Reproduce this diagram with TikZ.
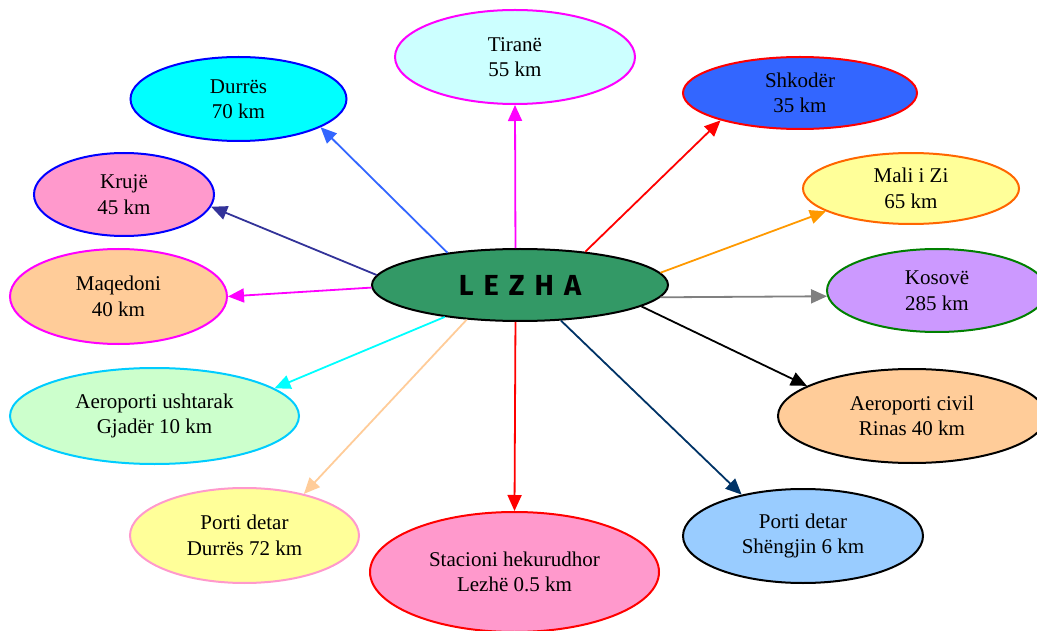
\documentclass[tikz,border=0pt]{standalone}
\usepackage{fontspec}
\setmainfont{Liberation Serif}
\newfontfamily\lezhafont{Fira Sans}
\usetikzlibrary{shapes.geometric,arrows.meta}
\definecolor{cTirF}{HTML}{CCFFFF}
\definecolor{cMag}{HTML}{FF00FF}
\definecolor{cCyan}{HTML}{00FFFF}
\definecolor{cBlue}{HTML}{0000FF}
\definecolor{cRoyal}{HTML}{3366FF}
\definecolor{cRed}{HTML}{FF0000}
\definecolor{cPink}{HTML}{FF99CC}
\definecolor{cIndigo}{HTML}{333399}
\definecolor{cLYellow}{HTML}{FFFF99}
\definecolor{cOrangeD}{HTML}{FF6600}
\definecolor{cOrange}{HTML}{FF9900}
\definecolor{cPeach}{HTML}{FFCC99}
\definecolor{cLav}{HTML}{CC99FF}
\definecolor{cGreen}{HTML}{008000}
\definecolor{cGray}{HTML}{808080}
\definecolor{cMint}{HTML}{CCFFCC}
\definecolor{cSky}{HTML}{00CCFF}
\definecolor{cLBlue}{HTML}{99CCFF}
\definecolor{cNavy}{HTML}{003366}
\definecolor{cSea}{HTML}{339966}
\begin{document}
\begin{tikzpicture}[x=1pt,y=-1pt,
  place/.style={ellipse, draw, line width=2pt, inner sep=0pt, align=center,
    font=\fontsize{21}{25.5}\selectfont},
  link/.style={line width=1.8pt, -{Triangle[length=16pt,width=14pt]}}]
\useasboundingbox (0,0) rectangle (1037,631);

\node[place, draw=black, fill=cSea, minimum width=296pt, minimum height=72pt] (lezha) at (520,285)
  {\lezhafont\bfseries\fontsize{29}{30}\selectfont\spaceskip=10pt L E Z H A};

\node[place, draw=cMag, fill=cTirF, minimum width=240pt, minimum height=94pt] (tirane) at (515,57) {Tiranë\\55 km};
\node[place, draw=cBlue, fill=cCyan, minimum width=216pt, minimum height=84pt] (durres) at (238.5,99) {Durrës\\70 km};
\node[place, draw=cRed, fill=cRoyal, minimum width=234pt, minimum height=72pt] (shkoder) at (800,93) {Shkodër\\35 km};
\node[place, draw=cBlue, fill=cPink, minimum width=180pt, minimum height=83pt] (kruje) at (124,194.5) {Krujë\\45 km};
\node[place, draw=cOrangeD, fill=cLYellow, minimum width=216pt, minimum height=71pt] (mali) at (911,188.5) {Mali i Zi\\65 km};
\node[place, draw=cMag, fill=cPeach, minimum width=217pt, minimum height=95pt] (maqedoni) at (118.5,296.5) {Maqedoni\\40 km};
\node[place, draw=cGreen, fill=cLav, minimum width=220pt, minimum height=83pt] (kosove) at (937,290.5) {Kosovë\\285 km};
\node[place, draw=cSky, fill=cMint, minimum width=289pt, minimum height=96pt] (ushtarak) at (154.5,416) {Aeroporti ushtarak\\Gjadër 10 km};
\node[place, draw=black, fill=cPeach, minimum width=268pt, minimum height=94pt] (civil) at (912,416) {Aeroporti civil\\Rinas 40 km};
\node[place, draw=cPink, fill=cLYellow, minimum width=229pt, minimum height=95pt] (portid) at (244.5,535.5) {Porti detar\\Durrës 72 km};
\node[place, draw=cRed, fill=cPink, minimum width=289pt, minimum height=120pt] (stacioni) at (514.5,572) {Stacioni hekurudhor\\Lezhë 0.5 km};
\node[place, draw=black, fill=cLBlue, minimum width=240pt, minimum height=94pt] (portis) at (803,536) {Porti detar\\Shëngjin 6 km};

\draw[link, cMag] (lezha.97.9) -- (tirane.-90);
\draw[link, cRoyal] (lezha.156.9) -- (durres.-19.5);
\draw[link, cRed] (lezha.27.6) -- (shkoder.199.3);
\draw[link, cIndigo] (lezha.176.4) -- (kruje.-8.2);
\draw[link, cOrange] (lezha.5.8) -- (mali.195.4);
\draw[link, cMag] (lezha.181.5) -- (maqedoni.0);
\draw[link, cGray] (lezha.-5.6) -- (kosove.183.4);
\draw[link, cCyan] (lezha.203.2) -- (ushtarak.13);
\draw[link, black] (lezha.-10.6) -- (civil.164.3);
\draw[link, cPeach] (lezha.213.4) -- (portid.35.3);
\draw[link, cRed] (lezha.-97.9) -- (stacioni.90);
\draw[link, cNavy] (lezha.-41.4) -- (portis.146.9);
\end{tikzpicture}
\end{document}
